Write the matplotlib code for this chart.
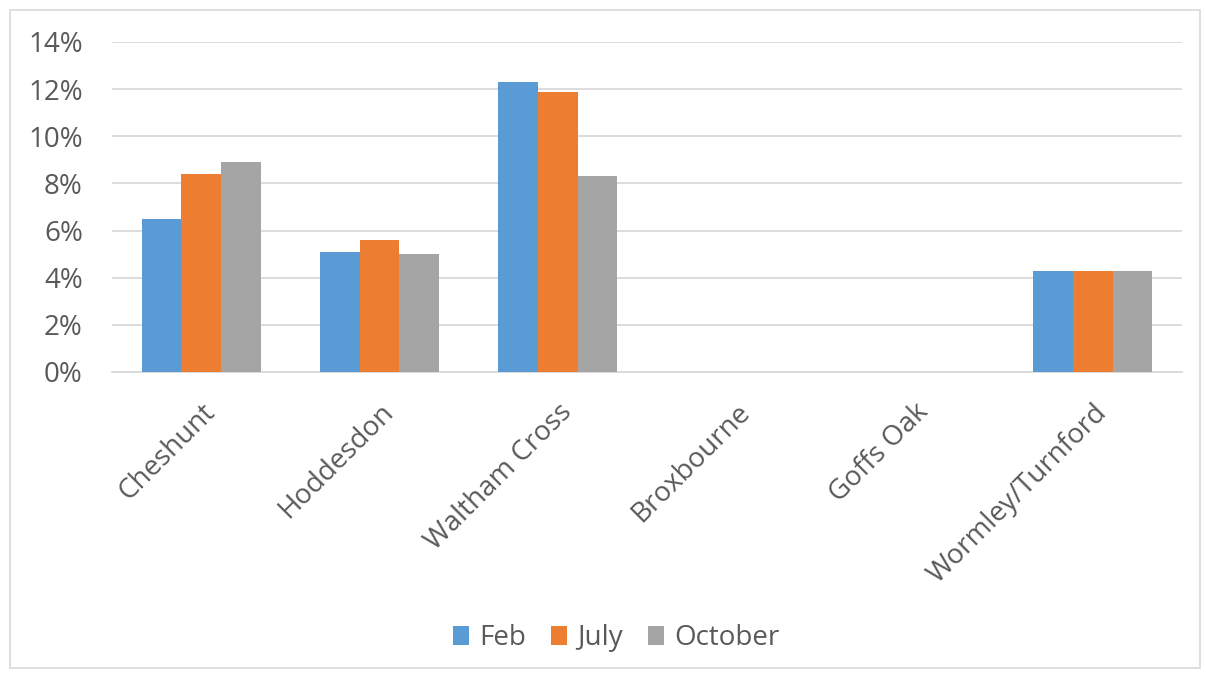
import matplotlib
matplotlib.use("Agg")
import matplotlib.pyplot as plt
import numpy as np
from matplotlib.patches import Rectangle
from matplotlib.ticker import PercentFormatter

areas = ["Cheshunt", "Hoddesdon", "Waltham Cross", "Broxbourne", "Goffs Oak", "Wormley/Turnford"]
feb = [6.5, 5.1, 12.3, 0.0, 0.0, 4.3]
july = [8.4, 5.6, 11.9, 0.0, 0.0, 4.3]
october = [8.9, 5.0, 8.3, 0.0, 0.0, 4.3]
series_names = ["Feb", "July", "October"]
colors = ["#5b9bd5", "#ed7d31", "#a5a5a5"]

text_color = "#595959"
plt.rcParams["font.family"] = ["Open Sans", "DejaVu Sans"]

fig = plt.figure(figsize=(12.06, 6.78), dpi=100)
fig.patches.append(Rectangle((10 / 1206, 10 / 678), 1190 / 1206, 658 / 678,
                             transform=fig.transFigure, fill=False,
                             edgecolor="#d9d9d9", linewidth=1.2))

ax = fig.add_axes([112 / 1206, 1 - 372 / 678, 1070 / 1206, 330 / 678])

x = np.arange(len(areas))
width = 0.223
for i, (vals, name, c) in enumerate(zip([feb, july, october], series_names, colors)):
    ax.bar(x + (i - 1) * width, vals, width, color=c, label=name, zorder=3)

ax.set_xlim(-0.5, len(areas) - 0.5)
ax.set_ylim(0, 14)
ax.set_yticks(np.arange(0, 15, 2))
ax.yaxis.set_major_formatter(PercentFormatter(decimals=0))
ax.grid(axis="y", color="#d9d9d9", linewidth=1.3, zorder=0)
for s in ["top", "right", "left"]:
    ax.spines[s].set_visible(False)
ax.spines["bottom"].set_color("#d9d9d9")
ax.spines["bottom"].set_linewidth(1.3)

ax.tick_params(axis="y", length=0, pad=21, labelsize=20, labelcolor=text_color)
ax.tick_params(axis="x", length=0, pad=19, labelsize=20, labelcolor=text_color)
ax.set_xticks(x)
ax.set_xticklabels(areas, rotation=45, ha="right", va="top", rotation_mode="anchor")

fig.legend(loc="center", bbox_to_anchor=(616 / 1206, 1 - 638 / 678), ncol=3, frameon=False,
           fontsize=20, labelcolor=text_color, handlelength=0.6, handleheight=0.7,
           handletextpad=0.35, columnspacing=0.9)

fig.savefig("out.png", dpi=100)
